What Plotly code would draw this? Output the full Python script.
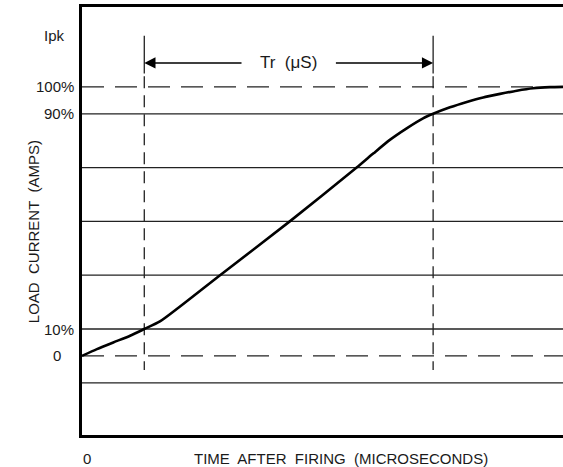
import plotly.graph_objects as go

# Load current rise curve (time in % of full axis span, current in % of Ipk)
time_pts = [0, 3.1, 6.5, 10.0, 12.95, 16.2, 28.7, 43.2, 57.1, 60.6, 64.0, 67.5, 71.0, 73.0,
            76.5, 80.0, 83.4, 86.9, 90.4, 93.8, 97.3, 100]
current_pct = [0, 2.5, 5.0, 7.5, 10, 12.8, 30, 50, 70, 75.3, 80.3, 84.6, 88.4, 90,
               92.4, 94.4, 96.1, 97.4, 98.6, 99.5, 99.9, 100]

# Reference levels
grid_levels = [90, 70, 50, 30, 10, -10]
dashed_levels = [100, 0]
t10, t90 = 12.95, 73.0         # times at 10% and 90%
ipk_level = 119

ytick_vals = [ipk_level, 100, 90, 10, 0]
ytick_text = ["Ipk", "100%", "90%", "10%", "0"]
xtick_text = "0"
x_title = "TIME  AFTER  FIRING  (MICROSECONDS)"
y_title = "LOAD  CURRENT  (AMPS)"
tr_label = "Tr  (μS)"

FONT = "Liberation Sans, Arial, sans-serif"
INK = "#1a1a1a"

fig = go.Figure()
fig.add_trace(go.Scatter(x=time_pts, y=current_pct, mode="lines",
                         line=dict(color="black", width=2.6, shape="spline", smoothing=0.6),
                         hoverinfo="skip", showlegend=False))

shapes = []
for lv in grid_levels:
    shapes.append(dict(type="line", xref="paper", x0=0, x1=1, yref="y", y0=lv, y1=lv,
                       line=dict(color="#222", width=1.3), layer="below"))
for lv in dashed_levels:
    shapes.append(dict(type="line", xref="paper", x0=0, x1=1, yref="y", y0=lv, y1=lv,
                       line=dict(color="#222", width=1.3, dash="22px,11px"), layer="below"))
for t in (t10, t90):
    shapes.append(dict(type="line", xref="x", x0=t, x1=t, yref="y", y0=ipk_level, y1=105,
                       line=dict(color="#222", width=1.3)))
    shapes.append(dict(type="line", xref="x", x0=t, x1=t, yref="y", y0=104, y1=-5.2,
                       line=dict(color="#222", width=1.3, dash="12px,7px"), layer="below"))

arrow_y = 108.9
mid = (t10 + t90) / 2
annotations = [
    dict(x=t10, y=arrow_y, ax=mid - 9.5, ay=arrow_y, xref="x", yref="y", axref="x", ayref="y",
         showarrow=True, arrowhead=2, arrowsize=1.6, arrowwidth=1.4, arrowcolor="black", text=""),
    dict(x=t90, y=arrow_y, ax=mid + 9.5, ay=arrow_y, xref="x", yref="y", axref="x", ayref="y",
         showarrow=True, arrowhead=2, arrowsize=1.6, arrowwidth=1.4, arrowcolor="black", text=""),
    dict(x=mid, y=arrow_y, xref="x", yref="y", text=tr_label, showarrow=False,
         font=dict(family=FONT, size=17, color=INK), xanchor="center", yanchor="middle"),
]

label_shift = {"Ipk": -15, "0": -19}
for v, txt in zip(ytick_vals, ytick_text):
    annotations.append(dict(x=0, y=v, xref="paper", yref="y", text=txt, showarrow=False,
                            xanchor="right", yanchor="middle", xshift=label_shift.get(txt, -6),
                            font=dict(family=FONT, size=15, color=INK)))

annotations.append(dict(x=0, y=0, xref="x", yref="paper", text=xtick_text, showarrow=False,
                        xanchor="center", yanchor="middle", xshift=5, yshift=-23,
                        font=dict(family=FONT, size=15, color=INK)))
annotations.append(dict(x=0.538, y=0, xref="paper", yref="paper", text=x_title, showarrow=False,
                        xanchor="center", yanchor="middle", yshift=-23,
                        font=dict(family=FONT, size=15, color=INK)))
annotations.append(dict(x=0, y=46, xref="paper", yref="y", text=y_title, showarrow=False,
                        textangle=-90, xanchor="center", yanchor="middle", xshift=-49,
                        font=dict(family=FONT, size=15, color=INK)))

fig.update_layout(
    width=563, height=467,
    margin=dict(l=82, r=0, t=7, b=32),
    paper_bgcolor="white", plot_bgcolor="white",
    xaxis=dict(range=[0, 100], showgrid=False, zeroline=False, showticklabels=False, ticks="",
               showline=True, mirror=True, linecolor="black", linewidth=3, fixedrange=True),
    yaxis=dict(range=[-29.4, 129.7], showgrid=False, zeroline=False, showticklabels=False, ticks="",
               showline=True, linecolor="black", linewidth=3, fixedrange=True),
    shapes=shapes, annotations=annotations, showlegend=False,
)

fig.write_html("out.html", config={"displayModeBar": False},
               post_script="document.body.style.margin='0';document.body.style.overflow='hidden';")
